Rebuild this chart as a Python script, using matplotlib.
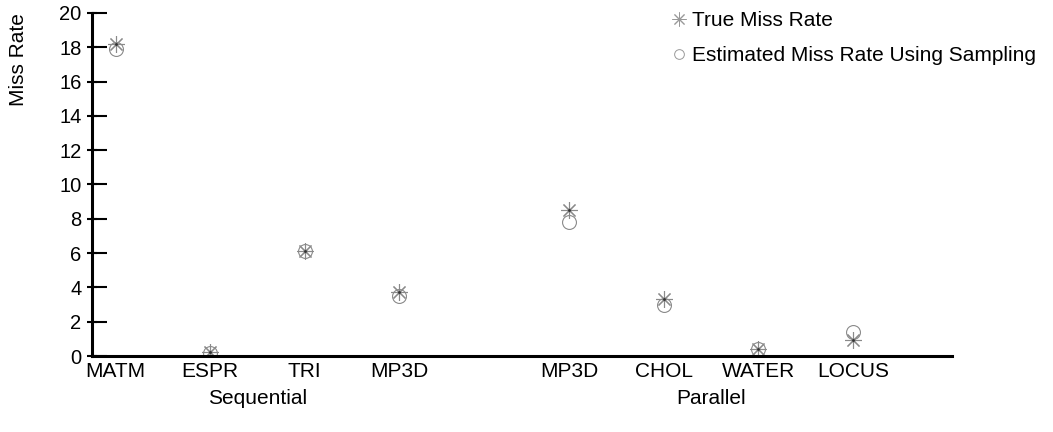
import numpy as np
import matplotlib
matplotlib.use("Agg")
import matplotlib.pyplot as plt
from matplotlib.lines import Line2D
from matplotlib.ticker import MultipleLocator

plt.rcParams['font.family'] = ['Liberation Sans', 'DejaVu Sans']

# data
categories = ['MATM', 'ESPR', 'TRI', 'MP3D', 'MP3D', 'CHOL', 'WATER', 'LOCUS']
groups = ['Sequential', 'Sequential', 'Sequential', 'Sequential',
          'Parallel', 'Parallel', 'Parallel', 'Parallel']
group_names = ['Sequential', 'Parallel']
true_rate = [18.2, 0.25, 6.1, 3.75, 8.5, 3.3, 0.4, 0.95]
est_rate = [17.9, 0.2, 6.1, 3.5, 7.8, 2.95, 0.4, 1.4]

# x positions: one slot per benchmark, with a wider gap between the groups
gap = 0.8
grp_idx = np.array([group_names.index(g) for g in groups])
xpos = np.arange(len(categories)) + gap * grp_idx

fs = 15

fig = plt.figure(figsize=(10.53, 4.32), dpi=100)
ax = fig.add_axes([92 / 1053, 76 / 432, 860 / 1053, 343 / 432])

gray = '#8a8a8a'
ax.plot(xpos, true_rate, linestyle='none', marker=(8, 2, 0), markersize=12,
        markeredgecolor=gray, markeredgewidth=0.8, color=gray)
ax.plot(xpos, est_rate, linestyle='none', marker='o', markersize=10,
        markerfacecolor='none', markeredgecolor=gray, markeredgewidth=0.8)
ax.plot(xpos, true_rate, linestyle='none', marker='.', markersize=2, color='#333333')

ax.set_xlim(-0.25, 8.85)
ax.set_ylim(0, 20)

for side in ['top', 'right']:
    ax.spines[side].set_visible(False)
ax.spines['left'].set_linewidth(2.2)
ax.spines['bottom'].set_linewidth(2.2)

ax.set_xticks(xpos)
ax.set_xticklabels(categories, fontsize=fs)
ax.tick_params(axis='x', length=0, pad=4)

ax.yaxis.set_major_locator(MultipleLocator(2))
ax.yaxis.set_minor_locator(MultipleLocator(2))
ax.yaxis.remove_overlapping_locs = False
ax.tick_params(axis='y', which='major', direction='inout', length=7, width=1.5,
               labelsize=fs - 0.5, pad=4)
ax.tick_params(axis='y', which='minor', direction='in', length=11, width=1.5)

ax.set_ylabel('Miss Rate', fontsize=fs)
ax.yaxis.set_label_coords(-0.086, 1.0)
ax.yaxis.label.set_va('center')
ax.yaxis.label.set_ha('right')

# group labels under the category names
for gi, g in enumerate(group_names):
    center = xpos[grp_idx == gi].mean()
    ax.text(center, -0.097, g, transform=ax.get_xaxis_transform(),
            ha='center', va='top', fontsize=fs)

handles = [
    Line2D([], [], linestyle='none', marker=(8, 2, 0), markersize=10,
           markeredgecolor='#999999', markeredgewidth=0.7),
    Line2D([], [], linestyle='none', marker='o', markersize=7,
           markerfacecolor='none', markeredgecolor='#999999', markeredgewidth=0.7),
]
fig.legend(handles, ['True Miss Rate', 'Estimated Miss Rate Using Sampling'],
           loc='upper left', bbox_to_anchor=(652 / 1053, 1.017), frameon=False,
           fontsize=fs, handlelength=0.8, handletextpad=0.2, labelspacing=0.75)

fig.savefig('out.png', dpi=100)
